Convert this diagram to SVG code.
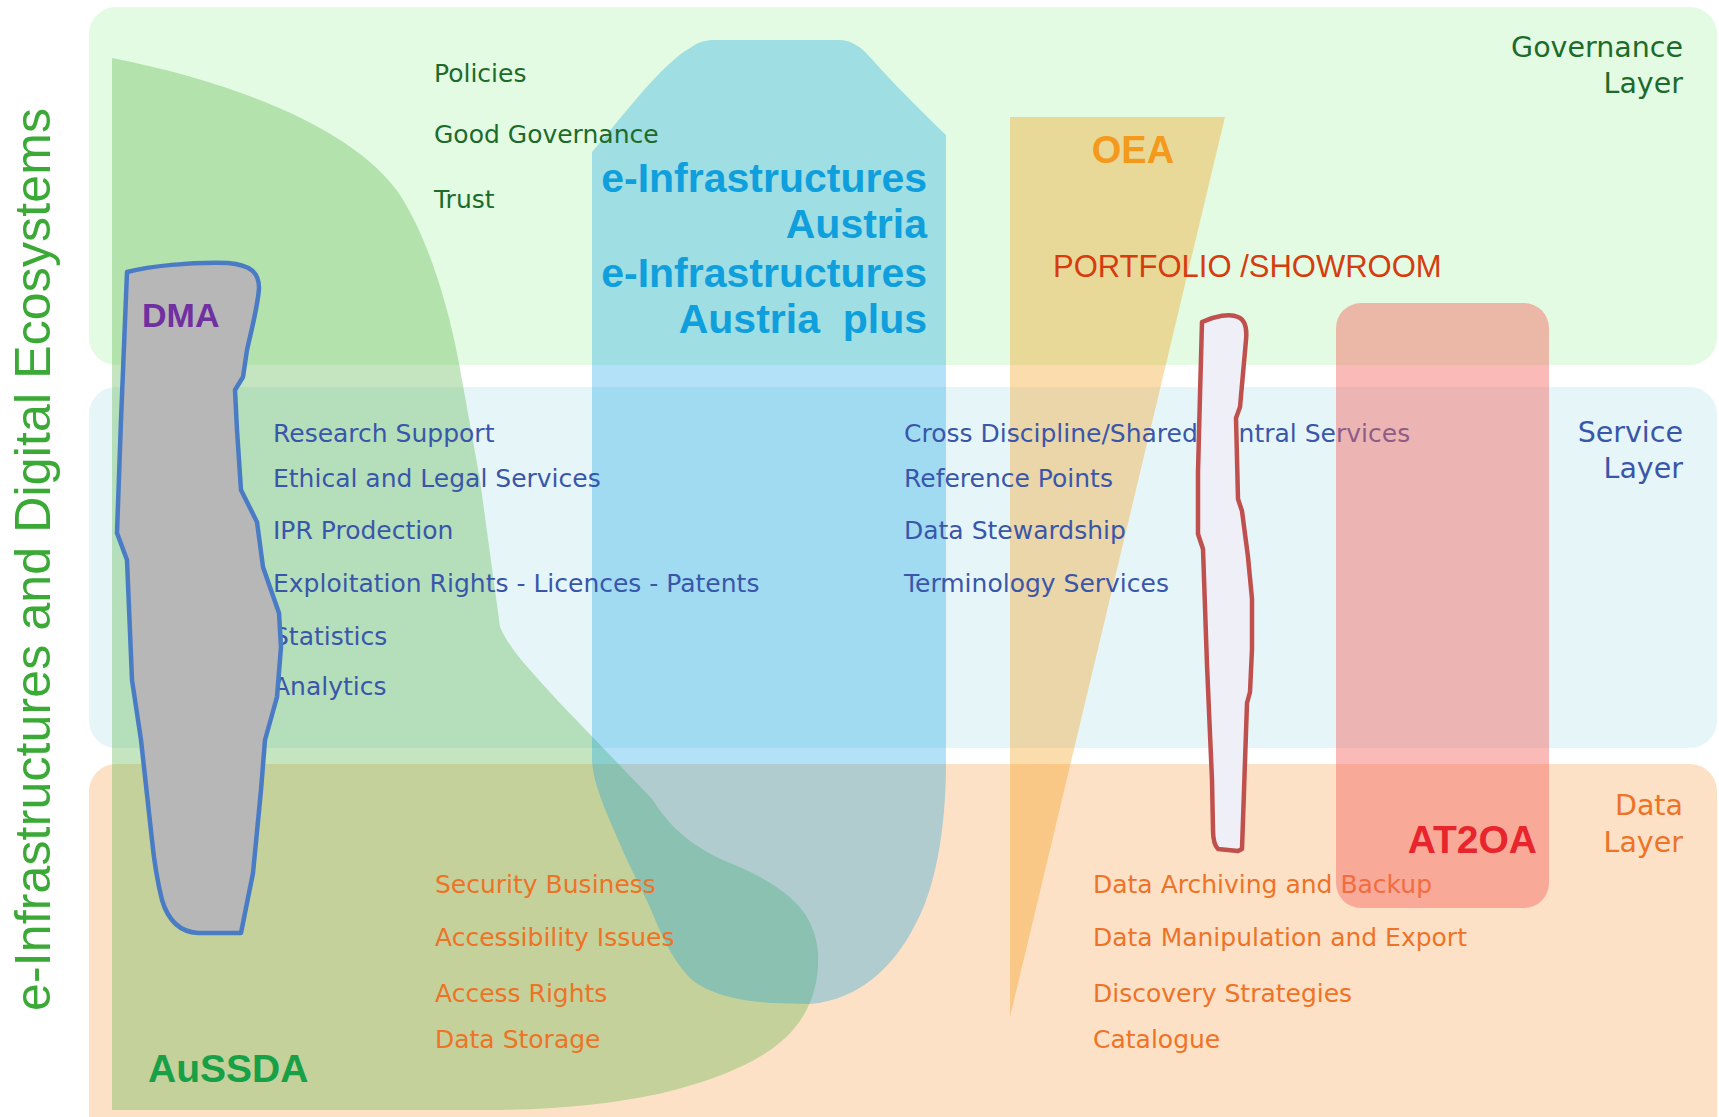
<svg xmlns="http://www.w3.org/2000/svg" width="1719" height="1117" viewBox="0 0 1719 1117">
<style>
.body{font-family:"DejaVu Sans","Liberation Sans",sans-serif;font-size:25px}
.lab{font-family:"DejaVu Sans","Liberation Sans",sans-serif;font-size:28.5px;text-anchor:end}
.bold{font-family:"Liberation Sans",Arial,sans-serif;font-weight:bold}
.gov{fill:#1d6b2c}
.svc{fill:#3a56aa}
.dat{fill:#ee7326}
.blue{fill:#0f9fdc;font-size:41px;text-anchor:end}
</style>
<rect width="1719" height="1117" fill="#ffffff"/>
<g id="layers">
  <rect id="governance-layer" x="89" y="7" width="1628" height="358" rx="27" fill="#e3fbe2"/>
  <rect id="service-layer" x="89" y="387" width="1628" height="361" rx="27" fill="#e6f6f8"/>
  <rect id="data-layer" x="89" y="764" width="1628" height="420" rx="27" fill="#fde1c6"/>
</g>
<g id="aussda">
  <path d="M112,58 C250,85 360,135 400,195 C432,245 452,320 462,380 L480,480 L500,627 C510,650 530,670 557,700 L653,800 C668,825 690,845 723,860 C785,885 815,910 818,953 C820,1000 800,1040 740,1067 C690,1090 620,1108 500,1110 L112,1110 Z" fill="#5ab44b" fill-opacity="0.35"/>
</g>
<g id="e-infrastructures">
  <path d="M592,152 C620,120 660,65 690,48 C698,42 706,40 714,40 L839,40 C850,40 860,46 868,55 C890,80 920,110 946,135 L946,763 C946,830 935,890 915,925 C895,965 860,1000 810,1004 L773,1003 C735,1001 705,992 690,978 C668,955 658,925 648,903 L627,860 C610,820 592,785 592,758 Z" fill="#039ae6" fill-opacity="0.3"/>
</g>
<g id="oea">
  <polygon points="1010,117 1225,117 1010,1017" fill="#f39300" fill-opacity="0.32"/>
</g>
<g id="vertical-title">
  <text transform="translate(50,1011) rotate(-90)" font-family="Liberation Sans, Arial, sans-serif" font-size="50" fill="#3aa935" textLength="903">e-Infrastructures and Digital Ecosystems</text>
</g>
<g id="layer-labels">
  <text class="lab gov" x="1683" y="57">Governance</text>
  <text class="lab gov" x="1683" y="93">Layer</text>
  <text class="lab svc" x="1683" y="442">Service</text>
  <text class="lab svc" x="1683" y="478">Layer</text>
  <text class="lab dat" x="1683" y="815">Data</text>
  <text class="lab dat" x="1683" y="852">Layer</text>
</g>
<g id="governance-items" class="body gov">
  <text x="434" y="82">Policies</text>
  <text x="434" y="143">Good Governance</text>
  <text x="434" y="208">Trust</text>
</g>
<g id="service-items" class="body svc">
  <text x="273" y="442">Research Support</text>
  <text x="273" y="487">Ethical and Legal Services</text>
  <text x="273" y="539">IPR Prodection</text>
  <text x="273" y="592">Exploitation Rights - Licences - Patents</text>
  <text x="273" y="645">Statistics</text>
  <text x="273" y="695">Analytics</text>
  <text x="904" y="442">Cross Discipline/Shared Central Services</text>
  <text x="904" y="487">Reference Points</text>
  <text x="904" y="539">Data Stewardship</text>
  <text x="904" y="592">Terminology Services</text>
</g>
<g id="data-items" class="body dat">
  <text x="435" y="893">Security Business</text>
  <text x="435" y="946">Accessibility Issues</text>
  <text x="435" y="1002">Access Rights</text>
  <text x="435" y="1048">Data Storage</text>
  <text x="1093" y="893">Data Archiving and Backup</text>
  <text x="1093" y="946">Data Manipulation and Export</text>
  <text x="1093" y="1002">Discovery Strategies</text>
  <text x="1093" y="1048">Catalogue</text>
</g>
<g id="e-infrastructures-label" class="bold blue">
  <text x="927" y="192">e-Infrastructures</text>
  <text x="927" y="238">Austria</text>
  <text x="927" y="287">e-Infrastructures</text>
  <text x="927" y="333" xml:space="preserve">Austria  plus</text>
</g>
<g id="oea-label">
  <text class="bold" x="1133" y="163" font-size="38" fill="#f39a1c" text-anchor="middle">OEA</text>
</g>
<g id="aussda-label">
  <text class="bold" x="148" y="1082" font-size="39" fill="#17a046">AuSSDA</text>
</g>
<g id="portfolio-label">
  <text x="1053" y="277" font-family="Liberation Sans, Arial, sans-serif" font-size="31" fill="#d63c0e">PORTFOLIO /SHOWROOM</text>
</g>
<g id="at2oa">
  <rect x="1336" y="303" width="213" height="605" rx="25" fill="#f56660" fill-opacity="0.45"/>
  <text class="bold" x="1537" y="853" font-size="39" fill="#e8242c" text-anchor="end">AT2OA</text>
</g>
<g id="dma">
  <path d="M127,272 C150,266 190,262 228,263 C250,265 259,272 259,288 C258,305 252,328 247,350 L243,377 L235,390 L237,430 L241,490 L257,522 L263,567 L279,613 L281,647 L277,697 L265,740 L261,790 L253,873 L241,933 L198,933 C180,932 168,920 162,900 C157,880 154,860 152,840 L141,740 L132,680 L127,560 L117,533 L121,420 Z" fill="#b7b7b7" stroke="#4a7cc6" stroke-width="4.5" stroke-linejoin="round"/>
  <text class="bold" x="142" y="327" font-size="34" fill="#7030a0">DMA</text>
</g>
<g id="portfolio">
  <path d="M1202,322 C1215,316 1230,313 1238,317 C1246,320 1247,330 1246,340 L1240,407 L1236,418 L1238,499 L1242,511 L1248,557 L1252,599 L1252,649 L1250,692 L1247,703 L1242,849 L1238,851 L1218,849 C1214,845 1213,838 1213,830 L1212,780 L1207,665 L1203,549 L1198,534 L1198,472 L1200,395 Z" fill="#eff0f7" stroke="#c0504d" stroke-width="4.5" stroke-linejoin="round"/>
</g>
<g id="connectors"/>
</svg>
